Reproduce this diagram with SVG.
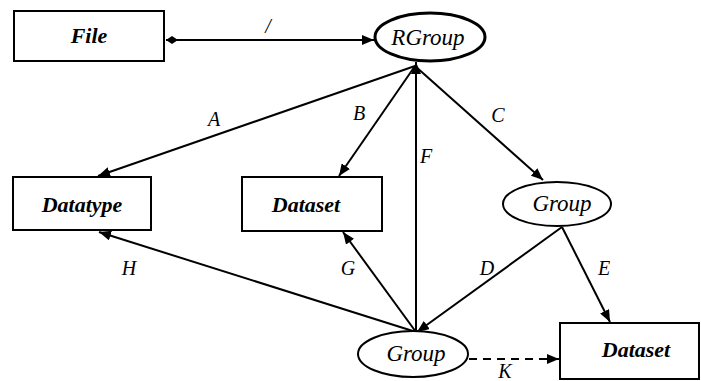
<svg xmlns="http://www.w3.org/2000/svg" width="701" height="381" viewBox="0 0 701 381" font-family="Liberation Serif, DejaVu Serif, Times New Roman, serif">
<style>
.box{fill:#fff;stroke:#000;stroke-width:2}
.ell{fill:#fff;stroke:#000;stroke-width:2}
.thick{stroke-width:3}
text{font-family:"Liberation Serif","DejaVu Serif",serif;font-style:italic;text-anchor:middle}
.nt{font-weight:bold;font-size:22px}
.et{font-size:23px}
.lb{font-size:20px}
.ln{fill:none;stroke:#000;stroke-width:2}
.dash{stroke-dasharray:8,6}
</style>
<defs>
<marker id="arr" viewBox="0 0 12 10" refX="12" refY="5" markerWidth="12" markerHeight="10" markerUnits="userSpaceOnUse" orient="auto">
<path d="M0,0 L12,5 L0,10 z" fill="#000"/>
</marker>
<marker id="dia" viewBox="0 0 12 8" refX="0" refY="4" markerWidth="12" markerHeight="8" markerUnits="userSpaceOnUse" orient="auto">
<path d="M0,4 L6,0 L12,4 L6,8 z" fill="#000"/>
</marker>
</defs>
<g id="connectors">
<line class="ln" x1="166" y1="40" x2="374" y2="40" marker-start="url(#dia)" marker-end="url(#arr)"/>
<line class="ln" x1="415" y1="66" x2="98" y2="176" marker-end="url(#arr)"/>
<line class="ln" x1="415" y1="66" x2="339" y2="176" marker-end="url(#arr)"/>
<line class="ln" x1="415" y1="66" x2="543" y2="180" marker-end="url(#arr)"/>
<line class="ln" x1="416" y1="332" x2="416" y2="62" marker-end="url(#arr)"/>
<line class="ln" x1="562" y1="227" x2="417" y2="332" marker-end="url(#arr)"/>
<line class="ln" x1="562" y1="227" x2="610" y2="322" marker-end="url(#arr)"/>
<line class="ln" x1="416" y1="332" x2="343" y2="232" marker-end="url(#arr)"/>
<line class="ln" x1="416" y1="332" x2="99" y2="232" marker-end="url(#arr)"/>
<line class="ln dash" x1="469" y1="359" x2="559" y2="359" marker-end="url(#arr)"/>
<text class="lb" x="268" y="33" font-family="Liberation Serif">/</text>
<text class="lb" x="214" y="126" font-family="Liberation Serif">A</text>
<text class="lb" x="359" y="120" font-family="Liberation Serif">B</text>
<text class="lb" x="498" y="122" font-family="Liberation Serif">C</text>
<text class="lb" x="426" y="163" font-family="Liberation Serif">F</text>
<text class="lb" x="129" y="275" font-family="Liberation Serif">H</text>
<text class="lb" x="348" y="275" font-family="Liberation Serif">G</text>
<text class="lb" x="487" y="275" font-family="Liberation Serif">D</text>
<text class="lb" x="604" y="275" font-family="Liberation Serif">E</text>
<text class="lb" x="505" y="378" font-family="Liberation Serif">K</text>
</g>
<g id="file">
<rect class="box" x="14" y="11" width="150" height="50"/>
<text class="nt" x="89" y="43">File</text>
</g>
<g id="rgroup">
<ellipse class="ell thick" cx="430" cy="37" rx="55" ry="24"/>
<text class="et" x="428" y="45">RGroup</text>
</g>
<g id="datatype">
<rect class="box" x="13" y="177" width="138" height="53"/>
<text class="nt" x="82" y="212">Datatype</text>
</g>
<g id="dataset1">
<rect class="box" x="242" y="177" width="140" height="54"/>
<text class="nt" x="306" y="212">Dataset</text>
</g>
<g id="group1">
<ellipse class="ell" cx="557" cy="204" rx="54" ry="22"/>
<text class="et" x="562" y="211">Group</text>
</g>
<g id="group2">
<ellipse class="ell" cx="413" cy="354" rx="55" ry="23"/>
<text class="et" x="416" y="361">Group</text>
</g>
<g id="dataset2">
<rect class="box" x="560" y="323" width="139" height="56"/>
<text class="nt" x="636" y="357">Dataset</text>
</g>
</svg>
